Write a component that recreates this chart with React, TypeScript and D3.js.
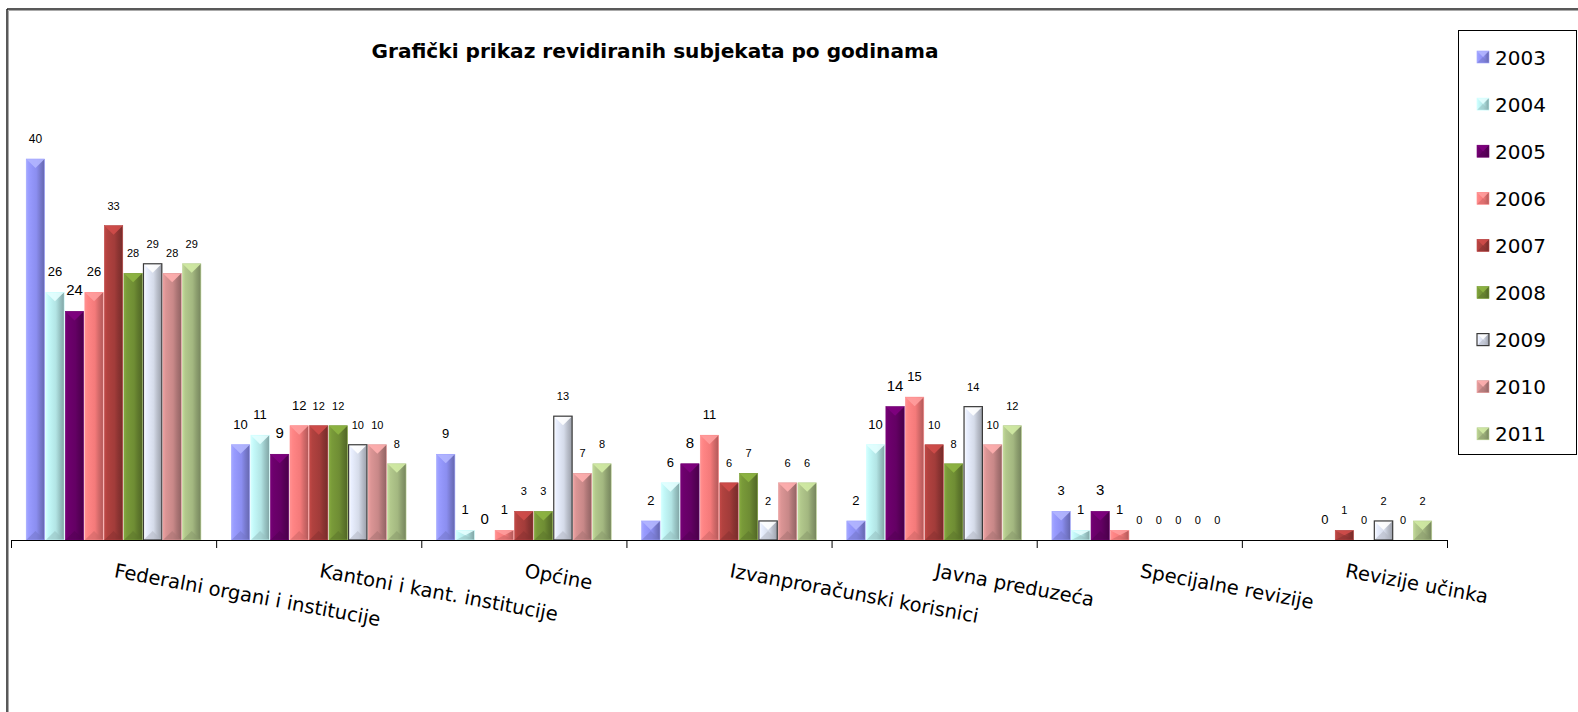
import React from 'react';
import * as d3 from 'd3';

const categories = [
  'Federalni organi i institucije',
  'Kantoni i kant. institucije',
  'Općine',
  'Izvanproračunski korisnici',
  'Javna preduzeća',
  'Specijalne revizije',
  'Revizije učinka',
];
const years = ['2003', '2004', '2005', '2006', '2007', '2008', '2009', '2010', '2011'];

// values per year, in category order (null = no bar, no label)
const v2003 = [40, 10, 9, 2, 2, 3, null];
const v2004 = [26, 11, 1, 6, 10, 1, null];
const v2005 = [24, 9, 0, 8, 14, 3, null];
const v2006 = [26, 12, 1, 11, 15, 1, 0];
const v2007 = [33, 12, 3, 6, 10, 0, 1];
const v2008 = [28, 12, 3, 7, 8, 0, 0];
const v2009 = [29, 10, 13, 2, 14, 0, 2];
const v2010 = [28, 10, 7, 6, 10, 0, 0];
const v2011 = [29, 8, 8, 6, 12, 0, 2];
const seriesValues = [v2003, v2004, v2005, v2006, v2007, v2008, v2009, v2010, v2011];

const seriesColors = ['#8b8ef0', '#b2e4e4', '#640064', '#f47a7a', '#a23c3a', '#6f8d34', '#d5dbe9', '#c88888', '#a3b780'];
const labelSizes = [13, 13, 15, 13, 11, 11, 11, 11, 11];

const W = 1578;
const H = 712;
const baseY = 540;

const x0 = d3.scaleBand<string>().domain(categories).range([11, 1447]).paddingInner(0).paddingOuter(0);
const x1 = d3.scaleBand<string>().domain(years).range([0, x0.bandwidth()]).paddingInner(0.06).paddingOuter(0.78);
const y = d3.scaleLinear().domain([0, 40]).range([baseY, 159]);

function Bevel({ x, yTop, w, h, i }: any) {
  const c = d3.color(seriesColors[i])!;
  const light = c.brighter(0.7).formatHex();
  const dark = c.darker(0.5).formatHex();
  const d = Math.min(9, h / 2);
  const cx = x + w / 2;
  const yb = yTop + h;
  return (
    <g>
      <rect x={x} y={yTop} width={w} height={h} fill={`url(#grad${i})`} />
      <polygon points={`${x},${yTop} ${x + w},${yTop} ${cx},${yTop + d}`} fill={light} opacity={0.9} />
      <polygon points={`${x},${yb} ${x + w},${yb} ${cx},${yb - d}`} fill={dark} opacity={0.55} />
      <rect x={x} y={yTop} width={w} height={h} fill="none"
        stroke={i === 6 ? '#3a3a3a' : d3.color(seriesColors[i])!.brighter(0.4).formatHex()}
        strokeWidth={i === 6 ? 1.2 : 0.6} />
    </g>
  );
}

export default function App() {
  const ticks = [...categories.map((c) => x0(c)!), 1447];
  return (
    <svg width={W} height={H} style={{ position: 'absolute', left: 0, top: 0, background: '#fff' }}>
      <defs>
        {seriesColors.map((col, i) => {
          const c = d3.color(col)!;
          return (
            <linearGradient key={i} id={`grad${i}`} x1="0" x2="1" y1="0" y2="0">
              <stop offset="0" stopColor={c.brighter(0.5).formatHex()} />
              <stop offset="0.15" stopColor={c.brighter(0.25).formatHex()} />
              <stop offset="0.55" stopColor={c.formatHex()} />
              <stop offset="0.75" stopColor={c.darker(0.4).formatHex()} />
              <stop offset="1" stopColor={c.darker(0.9).formatHex()} />
            </linearGradient>
          );
        })}
      </defs>

      {/* chart frame */}
      <line x1={7} y1={9} x2={W} y2={9} stroke="#222" strokeWidth={1.5} />
      <line x1={7} y1={9} x2={7} y2={H} stroke="#222" strokeWidth={1.5} />
      <line x1={8.5} y1={10.5} x2={W} y2={10.5} stroke="#aaa" strokeWidth={1} />
      <line x1={8.5} y1={10.5} x2={8.5} y2={H} stroke="#aaa" strokeWidth={1} />

      <text x={655} y={58} textAnchor="middle" fontFamily="DejaVu Sans" fontWeight="bold" fontSize={19}
        textLength={567} lengthAdjust="spacingAndGlyphs">
        Grafički prikaz revidiranih subjekata po godinama
      </text>

      {categories.map((cat, ci) => (
        <g key={cat} transform={`translate(${x0(cat)},0)`}>
          {years.map((yr, si) => {
            const v = seriesValues[si][ci];
            if (v === null) return null;
            const bx = x1(yr)!;
            const bw = x1.bandwidth();
            const top = y(v);
            return (
              <g key={yr}>
                {v > 0 && <Bevel x={bx} yTop={top} w={bw} h={baseY - top} i={si} />}
                <text x={bx + bw / 2} y={top - 16} textAnchor="middle" fontFamily="Liberation Sans"
                  fontSize={ci === 0 && si === 0 ? 12 : labelSizes[si]} fill="#000">
                  {v}
                </text>
              </g>
            );
          })}
        </g>
      ))}

      {/* category axis */}
      <line x1={11} y1={baseY + 0.5} x2={1447} y2={baseY + 0.5} stroke="#000" strokeWidth={1} />
      {ticks.map((t, i) => (
        <line key={i} x1={t + 0.5} y1={baseY} x2={t + 0.5} y2={baseY + 8} stroke="#000" strokeWidth={1} />
      ))}
      {categories.map((cat) => (
        <text key={cat} transform={`translate(${x0(cat)! + x0.bandwidth() / 2},577) rotate(10.5)`}
          fontFamily="DejaVu Sans" fontSize={19.5} fill="#000">
          {cat}
        </text>
      ))}

      {/* legend */}
      <rect x={1458.5} y={30.5} width={118} height={424} fill="#fff" stroke="#000" strokeWidth={1} />
      {years.map((yr, i) => {
        const cy = 57 + i * 47.1;
        return (
          <g key={yr}>
            <Bevel x={1477} yTop={cy - 6} w={12} h={12} i={i} />
            <text x={1495} y={cy + 7.5} fontFamily="DejaVu Sans" fontSize={20} fill="#000">{yr}</text>
          </g>
        );
      })}
    </svg>
  );
}
